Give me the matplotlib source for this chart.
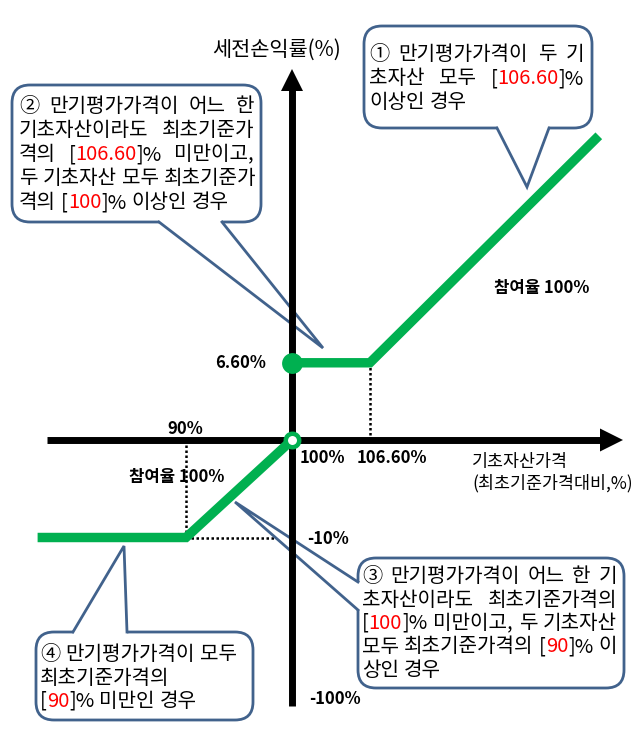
import re
import numpy as np
import matplotlib
matplotlib.use('Agg')
import matplotlib.pyplot as plt
import matplotlib.transforms as mtransforms
from matplotlib.patches import FancyBboxPatch, Polygon

plt.rcParams['font.family'] = ['Noto Sans CJK KR', 'DejaVu Sans']

# payoff (기초자산가격 %, 세전손익률 %)
low_x = [76, 90, 100]
low_y = [-10, -10, 0]
high_x = [100, 106.6, 126]
high_y = [6.6, 6.6, 26]
barrier_low = 90
barrier_high = 106.6
coupon = 6.6
floor_loss = -10

# callout texts, {..} = red
callout1 = ['① 만기평가가격이 두 기', '초자산 모두 [{106.60}]%', '이상인 경우']
callout2 = ['② 만기평가가격이 어느 한', '기초자산이라도 최초기준가', '격의 [{106.60}]% 미만이고,',
            '두 기초자산 모두 최초기준가', '격의 [{100}]% 이상인 경우']
callout3 = ['③ 만기평가가격이 어느 한 기', '초자산이라도 최초기준가격의', '[{100}]% 미만이고, 두 기초자산',
            '모두 최초기준가격의 [{90}]% 이', '상인 경우']
callout4 = ['④ 만기평가가격이 모두', '최초기준가격의', '[{90}]% 미만인 경우']

W, H = 637, 747
GREEN = '#00B050'
BLUE = '#41628C'
FS = 14.5

fig = plt.figure(figsize=(W / 100, H / 100), dpi=100)
ax = fig.add_axes([0, 0, 1, 1])
ax.axis('off')


def split_scale(k_neg, k_pos, c):
    # schematic axis: different px per % on each side of the origin
    def fwd(v):
        d = np.asarray(v, float) - c
        return np.where(d < 0, d * k_neg, d * k_pos)

    def inv(p):
        p = np.asarray(p, float)
        return np.where(p < 0, p / k_neg, p / k_pos) + c
    return fwd, inv


OX, OY = 292, 440  # pixel of (100%, 0%)
fx, ix = split_scale(10.6, 11.8, 100)
fy, iy = split_scale(9.75, 11.7, 0)
ax.set_xscale('function', functions=(fx, ix))
ax.set_yscale('function', functions=(fy, iy))
ax.set_xlim(float(ix(-OX)), float(ix(W - OX)))
ax.set_ylim(float(iy(-(H - OY))), float(iy(OY)))

# pixel coords, y down
P = mtransforms.Affine2D().scale(1 / 100, -1 / 100).translate(0, H / 100) + fig.dpi_scale_trans

# axes with arrows
ax.plot([47, 601], [OY, OY], transform=P, color='k', lw=5, solid_capstyle='butt', zorder=8)
ax.add_patch(Polygon([(600, 428.5), (623, OY), (600, 451.5)], closed=True, transform=P,
                     fc='k', ec='none', zorder=8))
ax.plot([OX, OX], [706, 90], transform=P, color='k', lw=5, solid_capstyle='butt', zorder=8)
ax.add_patch(Polygon([(281, 91), (OX, 69), (303, 91)], closed=True, transform=P,
                     fc='k', ec='none', zorder=8))

# dotted guides
dot = dict(color='k', lw=1.8, ls=(0, (1, 1)), zorder=2)
ax.plot([barrier_high, barrier_high], [0, coupon], **dot)
ax.plot([barrier_low, barrier_low], [0, floor_loss], **dot)
ax.plot([barrier_low, 100], [floor_loss, floor_loss], **dot)

# payoff lines
ax.plot(low_x, low_y, color=GREEN, lw=6.8, solid_capstyle='butt', solid_joinstyle='miter', zorder=9)
ax.plot(high_x, high_y, color=GREEN, lw=6.8, solid_capstyle='butt', solid_joinstyle='miter', zorder=9)
ax.plot([100], [coupon], 'o', ms=15, color=GREEN, mew=0, zorder=10)
ax.plot([100], [0], 'o', ms=9.7, mfc='white', mec=GREEN, mew=3.2, zorder=10)

renderer = fig.canvas.get_renderer()


def ink_w(s, fs=FS):
    t = ax.text(0, 0, s, transform=P, fontsize=fs)
    w = t.get_window_extent(renderer).width
    t.remove()
    return w


def draw_line(line, x0, x1, y, justify, fs=FS):
    words = line.split(' ')
    plain = [re.sub(r'[{}]', '', w) for w in words]
    widths = [ink_w(p, fs) for p in plain]
    gap = 0.25 * fs * 100 / 72
    if justify and len(words) > 1:
        gap = max(gap, (x1 - x0 - sum(widths)) / (len(words) - 1))
    bar = ink_w('|', fs)
    x = x0
    for w, ww in zip(words, widths):
        prefix = ''
        for p in [p for p in re.split(r'(\{[^}]*\})', w) if p]:
            red = p.startswith('{')
            s = p[1:-1] if red else p
            off = ink_w(prefix + '|', fs) - bar if prefix else 0
            ax.text(x + off, y, s, transform=P, fontsize=fs, va='baseline', ha='left',
                    color='#FF0000' if red else 'black', zorder=11)
            prefix += s
        x += ww + gap


def callout(box, tail, inward, lines, tx0, tx1, base0, step, justify=True):
    l, t, r, b = box
    ax.add_patch(FancyBboxPatch((l, t), r - l, b - t, boxstyle='round,pad=0,rounding_size=18',
                                transform=P, fc='white', ec=BLUE, lw=2, zorder=5))
    b1, tip, b2 = tail
    dx, dy = inward
    ax.add_patch(Polygon([b1, tip, b2, (b2[0] + dx, b2[1] + dy), (b1[0] + dx, b1[1] + dy)],
                         closed=True, transform=P, fc='white', ec='none', zorder=6))
    ax.plot([b1[0], tip[0], b2[0]], [b1[1], tip[1], b2[1]], transform=P, color=BLUE, lw=2,
            solid_joinstyle='miter', zorder=7)
    for i, line in enumerate(lines):
        draw_line(line, tx0, tx1, base0 + i * step, justify and i < len(lines) - 1)


callout((364, 26, 592, 128), ((497, 128), (527, 187), (549, 128)), (0, -4), callout1, 369, 584, 60, 24)
callout((12, 85, 261, 222), ((159, 222), (323, 348), (222, 222)), (0, -4), callout2, 19, 254, 112, 24)
callout((358, 558, 624, 688), ((358, 582), (235, 502), (358, 610)), (4, 0), callout3, 362, 617, 582, 23.5)
callout((36, 632, 253, 720), ((73, 632), (124, 546), (127, 632)), (0, 4), callout4, 40, 250, 660, 23.5,
        justify=False)

# labels
lab = dict(transform=P, fontsize=12, fontweight='bold', ha='center', va='center', zorder=12)
ax.text(241, 363, '6.60%', **lab)
ax.text(185, 429, '90%', **lab)
ax.text(322, 458, '100%', **lab)
ax.text(392, 458, '106.60%', **lab)
ax.text(177, 477, '참여율 100%', **lab)
ax.text(542, 288, '참여율 100%', **lab)
ax.text(328, 539, '-10%', **lab)
ax.text(335, 699, '-100%', **lab)

ax.text(277, 50, '세전손익률(%)', transform=P, fontsize=15, ha='center', va='center')
ax.text(472, 462, '기초자산가격', transform=P, fontsize=12.5, ha='left', va='center')
ax.text(472, 483, '(최초기준가격대비,%)', transform=P, fontsize=12.5, ha='left', va='center')

fig.savefig('out.png', dpi=100)
